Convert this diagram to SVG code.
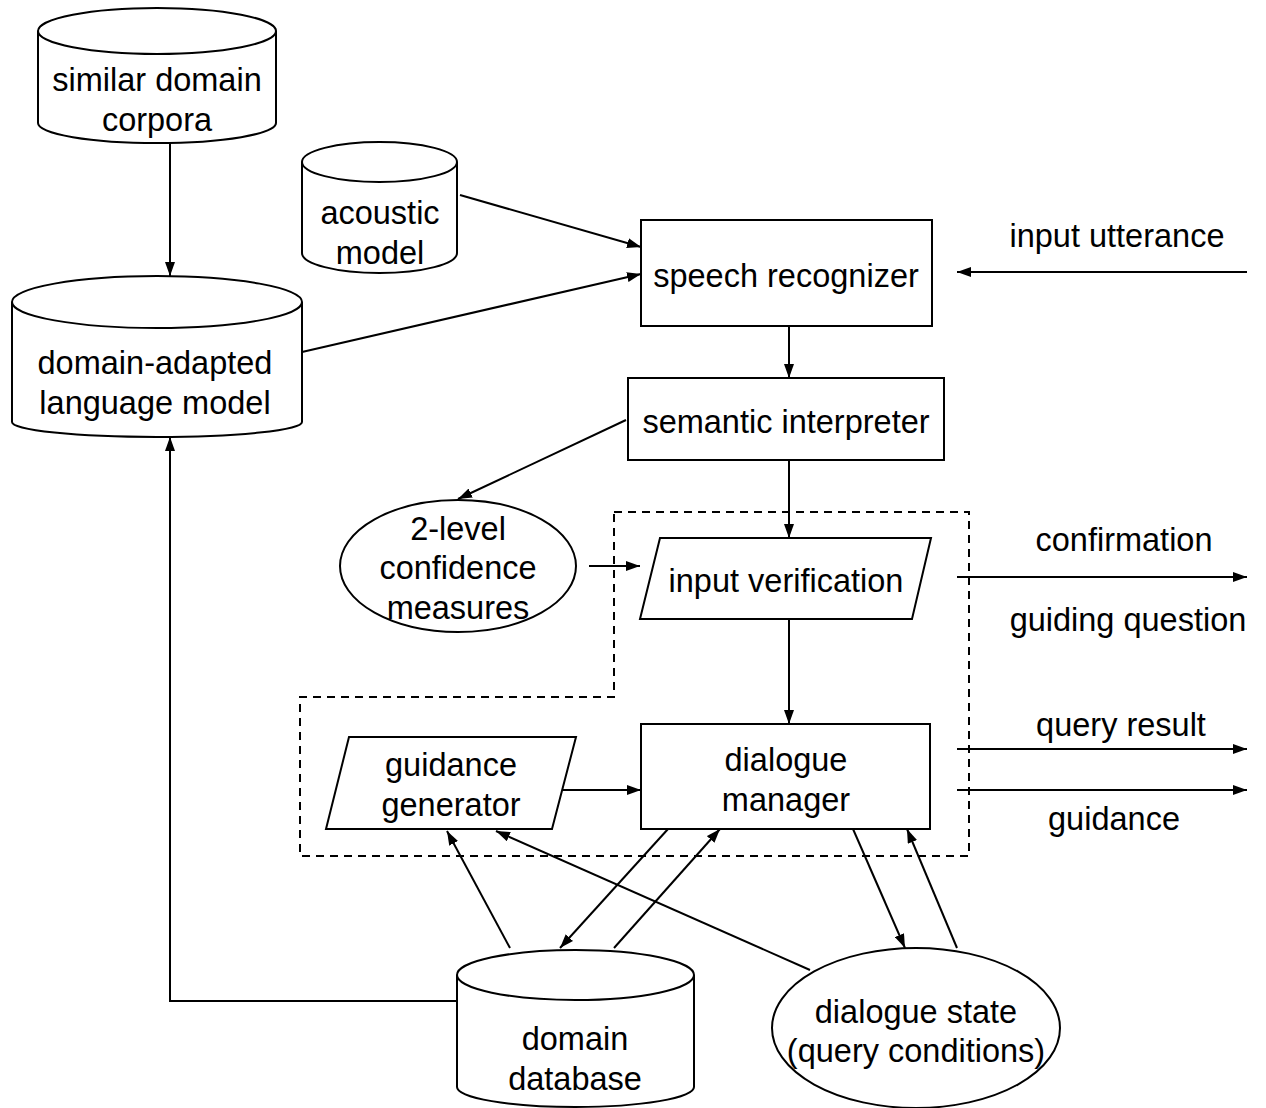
<svg xmlns="http://www.w3.org/2000/svg" width="1266" height="1108" viewBox="0 0 1266 1108">
  <defs>
    <marker id="arrow" viewBox="0 0 14 10" refX="14" refY="5" markerWidth="14" markerHeight="10" markerUnits="userSpaceOnUse" orient="auto">
      <path d="M0,0 L14,5 L0,10 Z" fill="#000"/>
    </marker>
    <style>
      .shape { fill: #fff; stroke: #000; stroke-width: 2; }
      .edge { fill: none; stroke: #000; stroke-width: 2; marker-end: url(#arrow); }
      .group { fill: none; stroke: #000; stroke-width: 2; stroke-dasharray: 8 6; }
      text { font-family: "Liberation Sans", Arial, sans-serif; font-size: 32.5px; fill: #000; text-anchor: middle; }
    </style>
  </defs>
  <rect width="1266" height="1108" fill="#fff"/>

  <!-- dashed boundary around the verification / dialogue core -->
  <path class="group" d="M614,512 H969 V856 H300 V697 H614 Z"/>

  <!-- connectors -->
  <g id="connectors">
    <line class="edge" x1="170" y1="143" x2="170" y2="276"/>
    <line class="edge" x1="460" y1="195" x2="641" y2="247"/>
    <line class="edge" x1="302" y1="352" x2="641" y2="274"/>
    <line class="edge" x1="1247" y1="272" x2="957" y2="272"/>
    <line class="edge" x1="789" y1="326" x2="789" y2="378"/>
    <line class="edge" x1="626" y1="420" x2="458" y2="499"/>
    <line class="edge" x1="789" y1="460" x2="789" y2="538"/>
    <line class="edge" x1="589" y1="566" x2="640" y2="566"/>
    <line class="edge" x1="789" y1="619" x2="789" y2="724"/>
    <line class="edge" x1="957" y1="577" x2="1247" y2="577"/>
    <line class="edge" x1="562" y1="790" x2="641" y2="790"/>
    <line class="edge" x1="957" y1="749" x2="1247" y2="749"/>
    <line class="edge" x1="957" y1="790" x2="1247" y2="790"/>
    <polyline class="edge" points="457,1001 170,1001 170,437"/>
    <line class="edge" x1="510" y1="948" x2="447" y2="831"/>
    <line class="edge" x1="810" y1="970" x2="496" y2="831"/>
    <line class="edge" x1="668" y1="829" x2="560" y2="948"/>
    <line class="edge" x1="614" y1="948" x2="720" y2="829"/>
    <line class="edge" x1="853" y1="829" x2="905" y2="948"/>
    <line class="edge" x1="957" y1="948" x2="907" y2="829"/>
  </g>

  <!-- edge labels -->
  <g id="edge-labels">
    <text x="1117" y="247">input utterance</text>
    <text x="1124" y="551">confirmation</text>
    <text x="1128" y="631">guiding question</text>
    <text x="1121" y="736">query result</text>
    <text x="1114" y="830">guidance</text>
  </g>

  <g id="similar-domain-corpora">
    <path class="shape" d="M38,31 A119,23 0 0 1 276,31 V123 A119,20 0 0 1 38,123 Z"/>
    <path class="shape" d="M38,31 A119,23 0 0 0 276,31"/>
    <text x="157" y="91">similar domain</text>
    <text x="157" y="131">corpora</text>
  </g>

  <g id="acoustic-model">
    <path class="shape" d="M302,162 A77.5,20 0 0 1 457,162 V253 A77.5,20 0 0 1 302,253 Z"/>
    <path class="shape" d="M302,162 A77.5,20 0 0 0 457,162"/>
    <text x="380" y="224">acoustic</text>
    <text x="380" y="264">model</text>
  </g>

  <g id="language-model">
    <path class="shape" d="M12,302 A145,26 0 0 1 302,302 V422 A145,15 0 0 1 12,422 Z"/>
    <path class="shape" d="M12,302 A145,26 0 0 0 302,302"/>
    <text x="155" y="374">domain-adapted</text>
    <text x="155" y="414">language model</text>
  </g>

  <g id="speech-recognizer">
    <rect class="shape" x="641" y="220" width="291" height="106"/>
    <text x="786" y="287">speech recognizer</text>
  </g>

  <g id="semantic-interpreter">
    <rect class="shape" x="628" y="378" width="316" height="82"/>
    <text x="786" y="433">semantic interpreter</text>
  </g>

  <g id="confidence-measures">
    <ellipse class="shape" cx="458" cy="566" rx="118" ry="66"/>
    <text x="458" y="540">2-level</text>
    <text x="458" y="579">confidence</text>
    <text x="458" y="619">measures</text>
  </g>

  <g id="input-verification">
    <path class="shape" d="M660,538 H931 L912,619 H640 Z"/>
    <text x="786" y="592">input verification</text>
  </g>

  <g id="dialogue-manager">
    <rect class="shape" x="641" y="724" width="289" height="105"/>
    <text x="786" y="771">dialogue</text>
    <text x="786" y="811">manager</text>
  </g>

  <g id="guidance-generator">
    <path class="shape" d="M349,737 H576 L552,829 H326 Z"/>
    <text x="451" y="776">guidance</text>
    <text x="451" y="816">generator</text>
  </g>

  <g id="domain-database">
    <path class="shape" d="M457,975 A118.5,25 0 0 1 694,975 V1087 A118.5,20 0 0 1 457,1087 Z"/>
    <path class="shape" d="M457,975 A118.5,25 0 0 0 694,975"/>
    <text x="575" y="1050">domain</text>
    <text x="575" y="1090">database</text>
  </g>

  <g id="dialogue-state">
    <ellipse class="shape" cx="916" cy="1028" rx="144" ry="80"/>
    <text x="916" y="1023">dialogue state</text>
    <text x="916" y="1062">(query conditions)</text>
  </g>
</svg>
